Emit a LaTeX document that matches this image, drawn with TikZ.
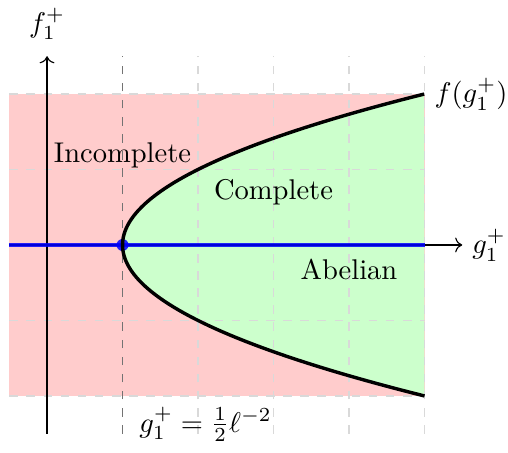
\documentclass[tikz,border=0pt]{standalone}
\usepackage{xcolor}
\usepackage{amsmath, amssymb}
\usepackage{tikz}
\usetikzlibrary{arrows.meta, positioning, calc}
\tikzset{
	gridline/.style={dashed, gray!30, thin},
	critline/.style={dashed, gray!90!black, thin},
	boundary/.style={draw=black, very thick},
	abelianline/.style={blue, line width=1.6pt, opacity=0.85},
	axisarr/.style={->, thin},
	regionlbl/.style={font=\normalsize, inner sep=1pt},
}

\begin{document}
\begin{tikzpicture}[x=0.93cm, y=0.93cm]
				\useasboundingbox (-0.623,-2.755) rectangle (6.106,3.245);
				\fill[red!20] (-0.5,-2) rectangle (5,2);
				\fill[green!20] (5,-2) -- plot[domain=-2:2, samples=100] ({1+\x*\x},\x) -- cycle;
				\foreach \gx in {2,...,5}
					\draw[gridline] (\gx,-2.5) -- (\gx,2.5);
				\foreach \gy in {-2,-1,1,2}
					\draw[gridline] (-0.5,\gy) -- (5,\gy);
				\coordinate (critbot) at (1,-2.5);
				\coordinate (crittop) at (1,2.5);
				\draw[critline] (critbot) -- (crittop);
				\coordinate (xstart) at (-0.5,0);
				\coordinate (xend) at (5.5,0);
				\coordinate (ystart) at (0,-2.5);
				\coordinate (yend) at (0,2.5);
				\draw[axisarr] (xstart) -- (xend) node[right] (xlbl) {$g_1^+$};
				\draw[axisarr] (ystart) -- (yend);
				\node (ylbl) at (0,2.93) {$f_1^+$};
				\coordinate (abend) at (5,0);
				\node[circle, fill=blue, opacity=0.85, inner sep=0pt, minimum size=4.2pt] (bif) at (1,0) {};
				\draw[abelianline] (xstart) -- (abend);
				\draw[boundary] plot[domain=-2:2, samples=100] ({1+\x*\x},\x);
				\node[right] (flbl) at (5,2) {$f(g_1^+)$};
				\node[regionlbl] (incomplete) at (1.0,1.19) {Incomplete};
				\node[regionlbl] (complete) at (3.0,0.70) {Complete};
				\node[regionlbl] (abelian) at (4.0,-0.33) {Abelian};
				\node (critlbl) at (2.1,-2.38) {$g_1^+ = \frac{1}{2}\ell^{-2}$};
			\end{tikzpicture}
\end{document}
